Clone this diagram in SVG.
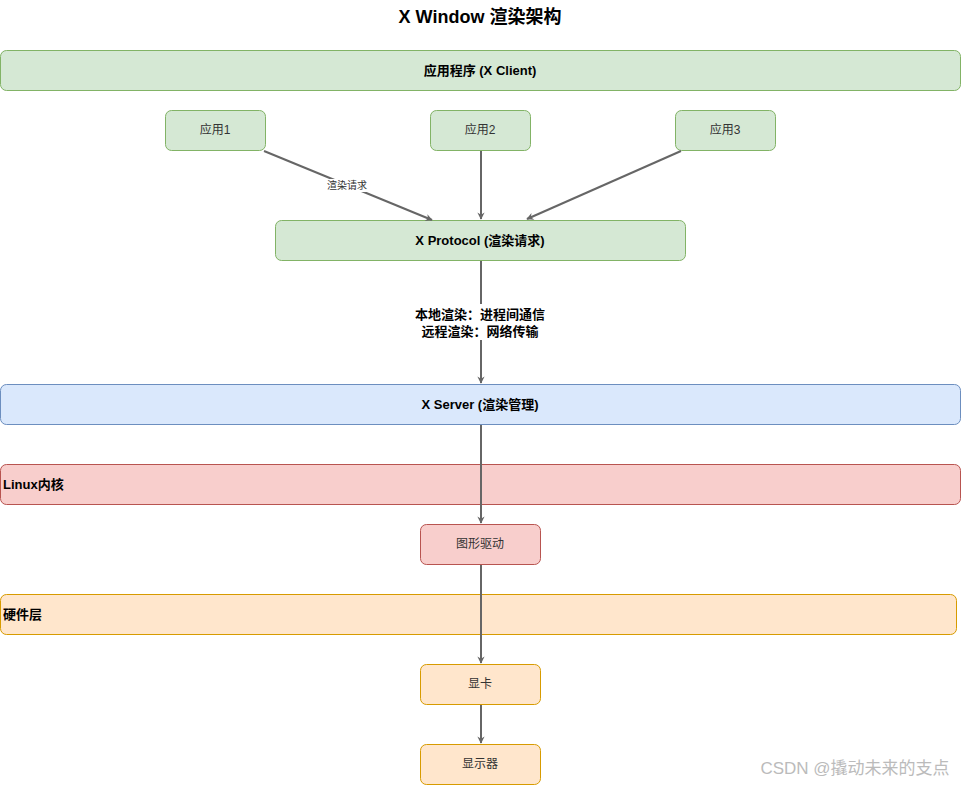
<svg xmlns="http://www.w3.org/2000/svg" width="961" height="785" viewBox="0 0 961 785">
<style>
text{font-family:"Liberation Sans","Noto Sans CJK SC",sans-serif;text-anchor:middle;dominant-baseline:central}
.b{font-weight:bold;font-size:13px;fill:#000}
.s{font-size:12px;fill:#333}
.g{fill:#d5e8d4;stroke:#82b366}
.bl{fill:#dae8fc;stroke:#6c8ebf}
.r{fill:#f8cecc;stroke:#b85450}
.o{fill:#ffe6cc;stroke:#d79b00}
.e{stroke:#666;stroke-width:2;fill:none;marker-end:url(#a)}
</style>
<defs><marker id="a" viewBox="0 0 10 10" refX="9" refY="5" markerWidth="6" markerHeight="6" orient="auto" markerUnits="userSpaceOnUse" overflow="visible"><path d="M0,0 L10,5 L0,10 L3,5 Z" fill="#666" transform="scale(1.2) translate(-1.5,-0.8)"/></marker></defs>
<rect width="961" height="785" fill="#fff"/>
<text x="480" y="17" style="font-weight:bold;font-size:18px">X Window 渲染架构</text>
<g id="client"><rect class="g" x="0.5" y="50.5" width="960" height="40" rx="6"/><text class="b" x="480" y="70">应用程序 (X Client)</text></g>
<g id="app1"><rect class="g" x="165.5" y="110.5" width="100" height="40" rx="6"/><text class="s" x="215" y="130">应用1</text></g>
<g id="app2"><rect class="g" x="430.5" y="110.5" width="100" height="40" rx="6"/><text class="s" x="480" y="130">应用2</text></g>
<g id="app3"><rect class="g" x="675.5" y="110.5" width="100" height="40" rx="6"/><text class="s" x="725" y="130">应用3</text></g>
<g id="proto"><rect class="g" x="275.5" y="220.5" width="410" height="40" rx="6"/><text class="b" x="480" y="240">X Protocol (渲染请求)</text></g>
<g id="server"><rect class="bl" x="0.5" y="384.5" width="960" height="40" rx="6"/><text class="b" x="480" y="404">X Server (渲染管理)</text></g>
<g id="kernel"><rect class="r" x="0.5" y="464.5" width="960" height="40" rx="6"/><text class="b" x="3" y="484" style="text-anchor:start">Linux内核</text></g>
<g id="driver"><rect class="r" x="420.5" y="524.5" width="120" height="40" rx="6"/><text class="s" x="480" y="544">图形驱动</text></g>
<g id="hw"><rect class="o" x="0.5" y="594.5" width="956" height="40" rx="6"/><text class="b" x="3" y="614" style="text-anchor:start">硬件层</text></g>
<g id="gpu"><rect class="o" x="420.5" y="664.5" width="120" height="40" rx="6"/><text class="s" x="480" y="684">显卡</text></g>
<g id="monitor"><rect class="o" x="420.5" y="744.5" width="120" height="40" rx="6"/><text class="s" x="480" y="764">显示器</text></g>
<g id="edges">
<path class="e" d="M264,151 L432,220"/>
<rect x="326" y="179" width="42" height="13" fill="#fff"/><text x="347" y="185" style="font-size:10px;fill:#333">渲染请求</text>
<path class="e" d="M481,151 L481,219"/>
<path class="e" d="M681,151 L527,219"/>
<path class="e" d="M481,261 L481,383"/>
<rect x="395" y="304" width="160" height="36" fill="#fff"/>
<text class="b" x="480" y="314">本地渲染：进程间通信</text>
<text class="b" x="480" y="331">远程渲染：网络传输</text>
<path class="e" d="M481,425 L481,523"/>
<path class="e" d="M481,565 L481,663"/>
<path class="e" d="M481,705 L481,743"/>
</g>
<text x="855" y="768" style="font-size:17px;fill:#bbb">CSDN @撬动未来的支点</text>
</svg>
